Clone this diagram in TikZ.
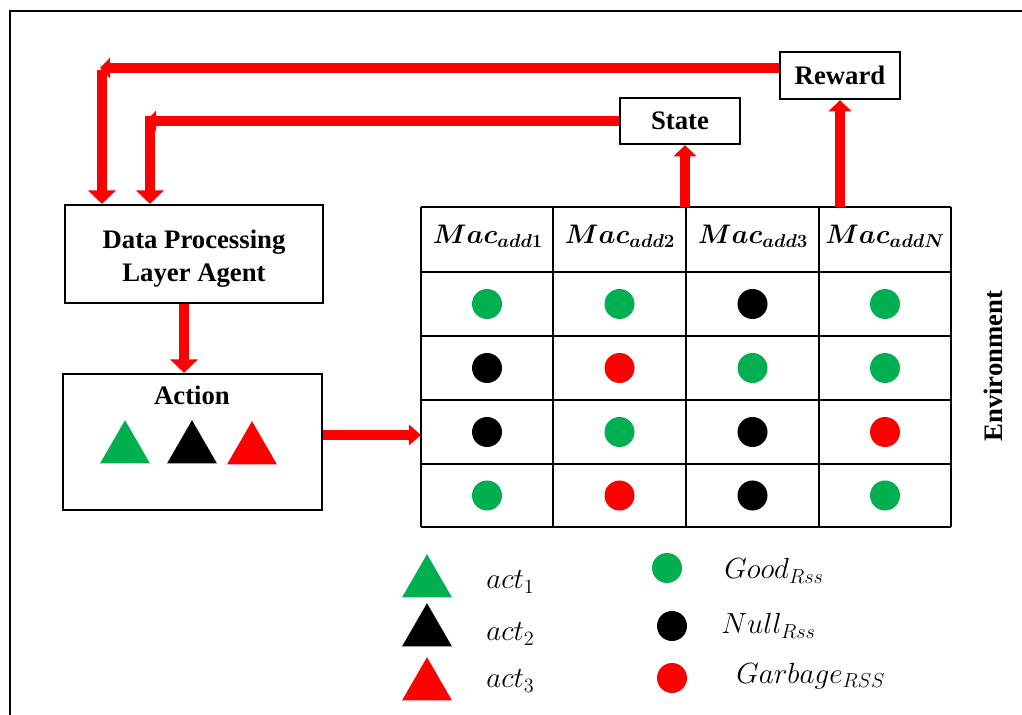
\documentclass[tikz,border=0pt]{standalone}
\usepackage{fontspec}
\setmainfont{Liberation Serif}
\usepackage{amsmath}
\usepackage{graphicx}
\usepackage{tikz}
\usetikzlibrary{arrows.meta, shapes.geometric, positioning}
\definecolor{goodgreen}{RGB}{0,176,80}
\definecolor{badred}{RGB}{255,0,0}
\newcommand{\lblfont}{\bfseries\fontsize{19}{23.5}\selectfont}
\tikzstyle{box} = [draw,line width=1.5pt,inner sep=0pt,align=center,font=\lblfont]
\tikzstyle{flow} = [draw=badred,line width=7pt,-{Triangle[width=0.68cm,length=0.34cm]}]
\tikzstyle{flowsmall} = [flow,-{Triangle[width=0.55cm,length=0.28cm]}]
\tikzstyle{cornerflow} = [flow,-{Triangle[width=0.5cm,length=0.25cm]}]
\tikzstyle{dot} = [circle,minimum size=0.75cm,inner sep=0pt]
\tikzstyle{act} = [regular polygon,regular polygon sides=3,minimum size=1.44cm,inner sep=0pt]
\tikzstyle{legtxt} = [inner sep=0pt,anchor=west,font=\fontsize{20}{24}\selectfont]

\begin{document}
\begin{tikzpicture}[x=0.025cm,y=-0.025cm]
	\useasboundingbox (0,0) rectangle (1022,715);
	\draw[line width=2pt] (10,11) rectangle (1060,760);

	% agent side
	\node [box,minimum width=6.45cm,minimum height=2.45cm](agent) at (194,254){};
	\node [font=\lblfont,align=center](agenttxt) at (194,259){Data Processing\\Layer Agent};
	\node [box,minimum width=6.475cm,minimum height=3.4cm](action) at (192.5,442){};
	\node [font=\lblfont](acttitle) at (192,395){Action};
	\node [act,fill=goodgreen](a1) at (125,449){};
	\node [act,fill=black](a2) at (192,449){};
	\node [act,fill=badred](a3) at (252,450){};

	\node [box,minimum width=3cm,minimum height=1.15cm](state) at (680,121){State};
	\node [box,minimum width=3cm,minimum height=1.175cm](reward) at (840,75.5){Reward};
	\node [font=\lblfont,rotate=90](env) at (993,366){Environment};

	% environment table
	\foreach \x in {421,553,686,819,951}
		\draw[line width=0.8pt] (\x,207) -- (\x,527);
	\foreach \y in {207,272,336,400,464,527}
		\draw[line width=0.8pt] (421,\y) -- (951,\y);
	\foreach \x/\s in {488/1,620/2,753/3,885/N}
		\node [font=\fontsize{19.5}{23}\selectfont](mac\s) at (\x,236){\scalebox{0.92}{$\boldsymbol{Mac_{add\s}}$}};
	\foreach \r/\y/\ca/\cb/\cc/\cd in {1/304/goodgreen/goodgreen/black/goodgreen,
		2/368/black/badred/goodgreen/goodgreen,3/432/black/goodgreen/black/badred,
		4/495.5/goodgreen/badred/black/goodgreen}{
		\node [dot,fill=\ca](d\r-1) at (487,\y){};
		\node [dot,fill=\cb](d\r-2) at (619.5,\y){};
		\node [dot,fill=\cc](d\r-3) at (752.5,\y){};
		\node [dot,fill=\cd](d\r-4) at (885,\y){};
	}

	% legend
	\node [act,fill=goodgreen](leg1) at (427,583){};
	\node [act,fill=black](leg2) at (427,632){};
	\node [act,fill=badred](leg3) at (427,686){};
	\node [legtxt](legtxt1) at (486,582){$act_1$};
	\node [legtxt](legtxt2) at (486,634){$act_2$};
	\node [legtxt](legtxt3) at (486,681){$act_3$};
	\node [dot,fill=goodgreen](leg4) at (667,568){};
	\node [dot,fill=black](leg5) at (672,626){};
	\node [dot,fill=badred](leg6) at (672,678){};
	\node [legtxt](legtxt4) at (724,571){$Good_{Rss}$};
	\node [legtxt](legtxt5) at (721,626){$Null_{Rss}$};
	\node [legtxt](legtxt6) at (736,676){$Garbage_{RSS}$};

	% arrows
	\coordinate (rtip) at (100,68);
	\coordinate (rturn) at (102,70);
	\coordinate (stip) at (146,121);
	\coordinate (sturn) at (150,116);
	\coordinate (tin) at (421,435);
	\coordinate (tstate) at (685,207);
	\coordinate (treward) at (840,207);
	\draw[cornerflow] (reward.west |- rtip) -- (rtip);
	\draw[flow] (rturn) -- (agent.north -| rturn);
	\draw[cornerflow] (state.west) -- (stip);
	\draw[flow] (sturn) -- (agent.north -| sturn);
	\draw[flow] ([xshift=-0.25cm]agent.south) -- ([xshift=-0.25cm]agent.south |- action.north);
	\draw[flow,-{Triangle[width=0.5cm,length=0.3cm]}] (action.east |- tin) -- (tin);
	\draw[flowsmall] (tstate) -- (state.south -| tstate);
	\draw[flowsmall] (treward) -- (reward.south);
\end{tikzpicture}
\end{document}
